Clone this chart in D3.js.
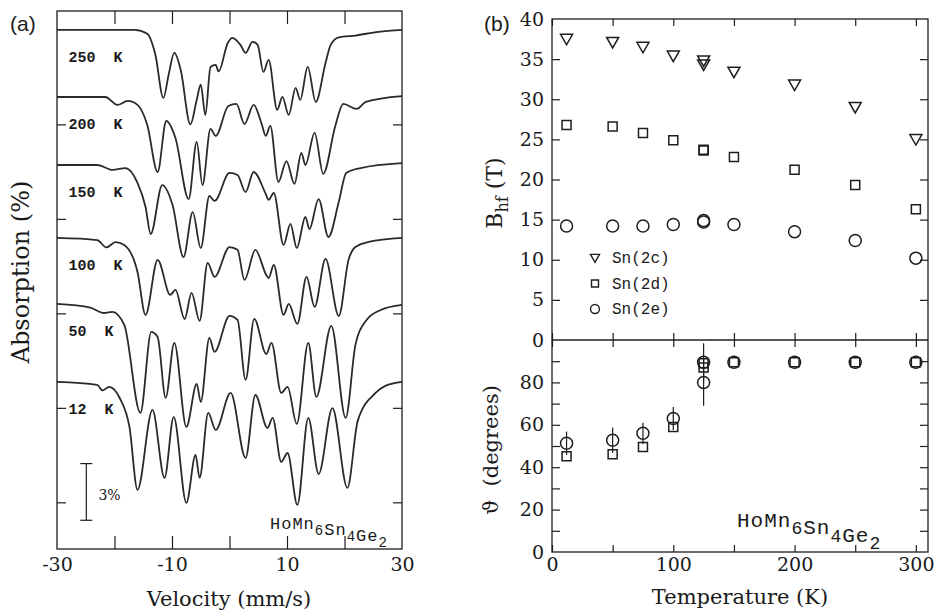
<!DOCTYPE html>
<html>
<head>
<meta charset="utf-8">
<script src="https://cdnjs.cloudflare.com/ajax/libs/d3/7.8.5/d3.min.js"></script>
<style>
  body { margin: 0; background: #fff; }
  svg text { fill: #1a1a1a; }
</style>
</head>
<body>
<svg id="chart" width="937" height="612"></svg>
<script>
// spectra of panel (a): [velocity mm/s, absorption % below its own baseline]
const spectrumNames = ["250  K", "200  K", "150  K", "100  K", "50  K", "12  K"];
const spectrumOffsets = [0, 3.55, 7.15, 11.01, 14.5, 18.63];

const spec250 = [[-30,0],[-22.4,0],[-16.5,0],[-14.3,0.2],[-12.9,1.3],[-11.5,3.6],[-10.6,2.4],[-9.6,1.2],[-8.5,2.1],[-6.8,5.0],[-5.7,3.7],[-5.0,2.9],[-4.2,4.5],[-3.3,1.96],[-2.4,1.85],[-1.9,2.2],[-0.3,0.69],[0.5,0.42],[1.9,0.79],[2.8,1.22],[4.0,0.63],[4.9,0.79],[5.9,2.22],[6.8,1.59],[8.3,4.23],[9.2,3.54],[10.3,4.5],[11.5,3.07],[12.3,3.7],[13.6,1.96],[15.0,3.81],[16.7,1.75],[17.6,0.79],[19.0,0.4],[21.9,0.3],[25.9,0.1],[30,0]];
const spec200 = [[-30,0],[-21.6,0],[-19.5,0.42],[-17.7,0.21],[-16.0,0.42],[-14.3,1.48],[-12.5,3.97],[-11.0,1.27],[-9.4,2.17],[-7.1,5.40],[-5.7,2.38],[-4.7,4.66],[-3.3,1.69],[-2.4,2.06],[-0.2,0.48],[1.2,0.37],[2.6,1.43],[4.2,0.42],[5.6,1.43],[6.3,2.06],[7.1,1.53],[8.5,4.50],[9.9,3.39],[11.3,4.60],[12.5,2.96],[13.2,3.60],[14.8,1.90],[16.3,4.07],[18.4,1.53],[19.8,0.37],[22.1,0.63],[23.7,0.26],[30,-0.05]];
const spec150 = [[-30,0],[-23.0,0],[-20.3,0.26],[-18.1,0.16],[-16.0,0.95],[-14.6,2.22],[-13.7,3.65],[-11.7,1.06],[-9.9,2.12],[-8.0,4.87],[-6.4,2.49],[-5.0,4.39],[-3.5,1.64],[-2.6,1.90],[0,0.42],[1.4,0.53],[2.8,1.43],[4.2,0.37],[6.3,1.53],[6.8,1.85],[7.7,1.48],[9.4,4.23],[10.6,3.12],[11.7,4.39],[13.2,2.75],[13.9,3.39],[15.5,1.80],[17.2,3.81],[19.0,1.96],[20.3,0.42],[22.8,0.16],[30,-0.1]];
const spec100 = [[-30,0],[-23.0,0.11],[-21.4,0.5],[-19.8,0.22],[-18.3,0.37],[-16.0,1.8],[-14.6,4.07],[-12.5,1.16],[-10.3,3.01],[-9.4,2.75],[-7.8,4.29],[-6.6,2.91],[-5.2,4.39],[-3.8,1.32],[-2.6,2.06],[0,0.48],[1.4,0.63],[2.6,2.22],[4.5,0.63],[6.4,1.96],[6.8,2.12],[7.7,1.43],[9.4,4.07],[10.3,3.49],[11.8,4.55],[13.4,2.06],[14.8,3.65],[16.7,1.11],[19.0,4.13],[20.7,1.16],[21.9,0.48],[24.2,0.21],[30,0]];
const spec50 = [[-30,0],[-24.2,0.2],[-21.8,0.48],[-20.4,0.42],[-18.3,1.11],[-15.5,5.77],[-13.6,1.48],[-12.5,1.75],[-11.1,4.97],[-9.6,2.06],[-7.5,6.51],[-5.7,4.23],[-5.0,5.19],[-3.5,1.80],[-2.6,2.54],[0,0.63],[1.4,0.85],[2.8,4.02],[4.3,0.79],[6.4,2.65],[7.3,2.06],[9.0,4.71],[10.1,4.39],[11.7,6.35],[13.7,2.06],[15.1,4.92],[17.7,1.16],[20.2,6.03],[21.9,2.17],[23.7,0.90],[26.3,0.32],[30,0.05]];
const spec12 = [[-30,0],[-23.0,0.16],[-22.1,0.45],[-20.9,0.26],[-19.1,0.85],[-17.4,2.38],[-16.0,5.71],[-13.4,1.48],[-11.3,5.08],[-9.7,1.85],[-7.5,6.40],[-5.9,3.86],[-5.2,5.08],[-3.7,1.64],[-2.4,2.54],[0.2,0.58],[2.8,4.02],[4.5,0.69],[6.6,2.43],[7.5,1.90],[9.0,4.23],[10.1,3.76],[11.8,6.51],[13.7,1.90],[15.5,4.87],[17.9,1.38],[20.5,5.61],[22.3,2.06],[25.4,0.58],[27.1,0.21],[30,0]];
const spectra = [spec250, spec200, spec150, spec100, spec50, spec12];

const velTicks = [-20, -10, 0, 10, 20];
const velLabels = [-30, -10, 10, 30];
const absTicks = [5, 10, 15, 20, 25];

// panel (b)
const temps = [12, 50, 75, 100, 125, 125, 150, 200, 250, 300];
const bhf2c = [37.5, 37.1, 36.5, 35.4, 34.8, 34.3, 33.4, 31.8, 29.0, 25.0];
const bhf2d = [26.8, 26.6, 25.8, 24.9, 23.6, 23.7, 22.8, 21.2, 19.3, 16.3];
const bhf2e = [14.2, 14.2, 14.2, 14.4, 14.7, 14.9, 14.4, 13.5, 12.4, 10.2];
const theta2d = [45.2, 46.1, 49.5, 59.0, 87.0, 89.0, 89.5, 89.5, 89.5, 89.5];
const theta2e = [51.3, 52.7, 56.0, 63.0, 80.0, 89.5, 89.5, 89.5, 89.5, 89.5];
const theta2eErr = [5.5, 6, 5, 5.4, 11, 9, 0, 0, 0, 0];
const tempTicks = [0, 50, 100, 150, 200, 250, 300];
const tempLabels = [0, 100, 200, 300];
const bhfTicks = [5, 10, 15, 20, 25, 30, 35];
const bhfLabels = [0, 5, 10, 15, 20, 25, 30, 35, 40];
const thetaTicks = [10, 20, 30, 40, 50, 60, 70, 80, 90];
const thetaLabels = [0, 20, 40, 60, 80];

const ink = "#1e1e1e";
const serif = '"DejaVu Serif", serif';
const mono = '"Liberation Mono", "DejaVu Sans Mono", monospace';
const svg = d3.select("#chart");

// verwijder de domeinlijn en zet de lettertypes goed
function styleAxis(g, size) {
  g.select(".domain").remove();
  g.attr("font-family", serif).attr("font-size", size);
  g.selectAll("line").attr("stroke", ink).attr("stroke-width", 1.2);
  g.selectAll("text").attr("fill", ink);
}

function addAxis(axis, transform, size) {
  svg.append("g").attr("transform", transform).call(axis).call(g => styleAxis(g, size));
}

// ---------- panel (a) ----------
const xA = d3.scaleLinear().domain([-30, 30]).range([57, 402]);
const yA = d3.scaleLinear().domain([-1, 27.47]).range([11, 549]);

addAxis(d3.axisBottom(xA).tickValues(velTicks).tickSize(-13).tickFormat(""), "translate(0,549)", 18);
addAxis(d3.axisTop(xA).tickValues(velTicks).tickSize(-13).tickFormat(""), "translate(0,11)", 18);
addAxis(d3.axisBottom(xA).tickValues(velLabels).tickSize(0).tickPadding(9).tickFormat(d => String(d)), "translate(0,549)", 19);
addAxis(d3.axisLeft(yA).tickValues(absTicks).tickSize(-9).tickFormat(""), "translate(57,0)", 18);
addAxis(d3.axisRight(yA).tickValues(absTicks).tickSize(-9).tickFormat(""), "translate(402,0)", 18);

svg.append("rect")
    .attr("x", xA(-30)).attr("y", yA(-1))
    .attr("width", xA(30) - xA(-30)).attr("height", yA(27.47) - yA(-1))
    .attr("fill", "none").attr("stroke", ink).attr("stroke-width", 1.3);

spectra.forEach(function (spec, i) {
  var line = d3.line()
      .x(d => xA(d[0]))
      .y(d => yA(spectrumOffsets[i] + d[1]))
      .curve(d3.curveMonotoneX);
  svg.append("path")
      .datum(spec)
      .attr("d", line)
      .attr("fill", "none")
      .attr("stroke", "#2a2a2a")
      .attr("stroke-width", 1.8)
      .attr("stroke-linejoin", "round");
  svg.append("text")
      .attr("x", xA(-28))
      .attr("y", yA(spectrumOffsets[i] + 1.7))
      .attr("font-family", mono).attr("font-weight", "bold").attr("font-size", 15)
      .attr("xml:space", "preserve")
      .text(spectrumNames[i]);
});

// 3% schaalbalk
const bar = svg.append("g").attr("stroke", ink).attr("stroke-width", 1.2);
bar.append("line").attr("x1", xA(-24.9)).attr("x2", xA(-24.9)).attr("y1", yA(22.95)).attr("y2", yA(25.95));
bar.append("line").attr("x1", xA(-24.9) - 6).attr("x2", xA(-24.9) + 6).attr("y1", yA(22.95)).attr("y2", yA(22.95));
bar.append("line").attr("x1", xA(-24.9) - 6).attr("x2", xA(-24.9) + 6).attr("y1", yA(25.95)).attr("y2", yA(25.95));
svg.append("text").attr("x", xA(-22.8)).attr("y", yA(24.9))
    .attr("font-family", serif).attr("font-size", 14).text("3%");

function formula(x, y, size, sub, spacing) {
  const t = svg.append("text").attr("x", x).attr("y", y)
      .attr("font-family", mono).attr("font-size", size).attr("letter-spacing", spacing);
  [["HoMn", "6"], ["Sn", "4"], ["Ge", "2"]].forEach(function (p) {
    t.append("tspan").text(p[0]);
    t.append("tspan").attr("dy", size * 0.35).attr("font-size", sub).text(p[1]);
    t.append("tspan").attr("dy", -size * 0.35).text("");
  });
}
formula(270, 529, 17, 14, 1);

svg.append("text").attr("x", 229).attr("y", 606)
    .attr("text-anchor", "middle").attr("font-family", serif).attr("font-size", 21)
    .text("Velocity (mm/s)");
svg.append("text").attr("transform", "translate(29,272) rotate(-90)")
    .attr("text-anchor", "middle").attr("font-family", serif).attr("font-size", 24)
    .text("Absorption (%)");
svg.append("text").attr("x", 10).attr("y", 31)
    .attr("font-family", '"Liberation Sans", Arial, sans-serif').attr("font-size", 21).text("(a)");

// ---------- panel (b) ----------
const xB = d3.scaleLinear().domain([0, 310]).range([552, 928]);
const yB = d3.scaleLinear().domain([0, 40]).range([340, 19]);
const yT = d3.scaleLinear().domain([0, 100]).range([552, 340]);

addAxis(d3.axisTop(xB).tickValues(tempTicks).tickSize(-7).tickFormat(""), "translate(0,19)", 18);
addAxis(d3.axisTop(xB).tickValues(tempTicks).tickSize(7).tickFormat(""), "translate(0,340)", 18);
addAxis(d3.axisBottom(xB).tickValues(tempTicks).tickSize(7).tickFormat(""), "translate(0,340)", 18);
addAxis(d3.axisBottom(xB).tickValues(tempTicks).tickSize(-7).tickFormat(""), "translate(0,552)", 18);
addAxis(d3.axisBottom(xB).tickValues(tempLabels).tickSize(0).tickPadding(6).tickFormat(d => String(d)), "translate(0,552)", 19);

addAxis(d3.axisLeft(yB).tickValues(bhfTicks).tickSize(-8).tickFormat(""), "translate(552,0)", 18);
addAxis(d3.axisRight(yB).tickValues(bhfTicks).tickSize(-8).tickFormat(""), "translate(928,0)", 18);
addAxis(d3.axisLeft(yB).tickValues(bhfLabels).tickSize(0).tickPadding(8).tickFormat(d => String(d)), "translate(552,0)", 19);

addAxis(d3.axisLeft(yT).tickValues(thetaTicks).tickSize(-8).tickFormat(""), "translate(552,0)", 18);
addAxis(d3.axisRight(yT).tickValues(thetaTicks).tickSize(-8).tickFormat(""), "translate(928,0)", 18);
addAxis(d3.axisLeft(yT).tickValues(thetaLabels).tickSize(0).tickPadding(8).tickFormat(d => String(d)), "translate(552,0)", 19);

svg.append("rect")
    .attr("x", xB(0)).attr("y", yB(40))
    .attr("width", xB(310) - xB(0)).attr("height", yT(0) - yB(40))
    .attr("fill", "none").attr("stroke", ink).attr("stroke-width", 1.3);
svg.append("line")
    .attr("x1", xB(0)).attr("x2", xB(310)).attr("y1", yB(0)).attr("y2", yB(0))
    .attr("stroke", ink).attr("stroke-width", 1.3);

function triangle(s) { return "M" + (-s) + "," + (-s * 0.8) + "L" + s + "," + (-s * 0.8) + "L0," + (s * 0.95) + "Z"; }
function square(s) { return "M" + (-s) + "," + (-s) + "h" + (2 * s) + "v" + (2 * s) + "h" + (-2 * s) + "Z"; }

function markers(values, yScale, shape, size) {
  svg.append("g").selectAll("path")
    .data(values)
    .join("path")
      .attr("transform", (d, i) => "translate(" + xB(temps[i]) + "," + yScale(d) + ")")
      .attr("d", shape == "circle" ? d3.symbol(d3.symbolCircle, Math.PI * size * size)() :
                 shape == "square" ? square(size) : triangle(size))
      .attr("fill", "none").attr("stroke", ink).attr("stroke-width", 1.5);
}

markers(bhf2c, yB, "triangle", 6);
markers(bhf2d, yB, "square", 4.5);
markers(bhf2e, yB, "circle", 6);

// foutbalken voor Sn(2e)
svg.append("g").selectAll("line")
  .data(theta2e)
  .join("line")
    .attr("x1", (d, i) => xB(temps[i])).attr("x2", (d, i) => xB(temps[i]))
    .attr("y1", (d, i) => yT(d - theta2eErr[i])).attr("y2", (d, i) => yT(d + theta2eErr[i]))
    .attr("stroke", ink).attr("stroke-width", 1.2);
markers(theta2d, yT, "square", 4.5);
markers(theta2e, yT, "circle", 6);

// legenda
const legend = [["triangle", "Sn(2c)"], ["square", "Sn(2d)"], ["circle", "Sn(2e)"]];
legend.forEach(function (l, i) {
  const y = 258 + i * 25.5;
  svg.append("path")
      .attr("transform", "translate(595," + y + ")")
      .attr("d", l[0] == "circle" ? d3.symbol(d3.symbolCircle, Math.PI * 20)() :
                 l[0] == "square" ? square(3.5) : triangle(4.5))
      .attr("fill", "none").attr("stroke", ink).attr("stroke-width", 1.4);
  svg.append("text").attr("x", 612).attr("y", y + 5)
      .attr("font-family", mono).attr("font-size", 16).text(l[1]);
});

formula(737, 527, 21, 18, 1);

svg.append("text").attr("x", 740).attr("y", 604)
    .attr("text-anchor", "middle").attr("font-family", serif).attr("font-size", 21)
    .text("Temperature (K)");

const bt = svg.append("text").attr("transform", "translate(502,193) rotate(-90)")
    .attr("text-anchor", "middle").attr("font-family", serif).attr("font-size", 22);
bt.append("tspan").text("B");
bt.append("tspan").attr("dy", 6).attr("font-size", 16).text("hf");
bt.append("tspan").attr("dy", -6).text(" (T)");

svg.append("text").attr("transform", "translate(498,450) rotate(-90)")
    .attr("text-anchor", "middle").attr("font-family", serif).attr("font-size", 21)
    .attr("xml:space", "preserve")
    .text("\u03d1  (degrees)");

svg.append("text").attr("x", 484).attr("y", 31)
    .attr("font-family", '"Liberation Sans", Arial, sans-serif').attr("font-size", 21).text("(b)");
</script>
</body>
</html>
